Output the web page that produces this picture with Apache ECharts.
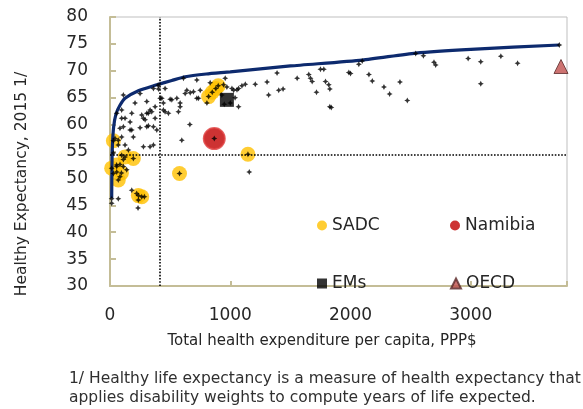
<!DOCTYPE html>
<html>
<head>
<meta charset="utf-8">
<script src="https://cdn.jsdelivr.net/npm/echarts@6/dist/echarts.min.js"></script>
<style>
  html, body { margin: 0; padding: 0; background: #fff; }
  #chart { width: 583px; height: 409px; }
</style>
</head>
<body>
<div id="chart"></div>
<script>
// Efficiency frontier: health spending (PPP$ per capita) vs healthy life expectancy
const frontier = [
  [14, 46.3], [16, 52.0], [20, 56.0], [30, 59.5], [50, 62.0], [83, 63.6],
  [125, 64.9], [236, 66.3], [375, 67.3], [514, 68.2], [625, 68.9], [800, 69.4],
  [1000, 69.8], [1500, 70.9], [2097, 72.0], [2542, 73.3], [3000, 74.0], [3736, 74.8]
];

// All countries (small black markers)
const countries = [
  [14, 46.2], [14, 45.4], [69, 46.2], [28, 50.9], [56, 51.2], [56, 52.2], [83, 50.3], [83, 52.6],
  [111, 52.2], [139, 51.6], [28, 54.7], [97, 54.3], [111, 53.5], [42, 57.4], [69, 56.2], [69, 57.1],
  [97, 57.7], [125, 56.2], [153, 55.3], [278, 55.9], [333, 55.9], [361, 56.2], [194, 57.7], [181, 59.0],
  [83, 59.3], [111, 59.6], [167, 60.5], [125, 61.2], [97, 61.2], [56, 62.1], [97, 62.7], [181, 62.1],
  [264, 61.8], [278, 61.2], [306, 62.1], [319, 62.1], [333, 62.7], [347, 62.4], [375, 63.3], [306, 59.6],
  [292, 60.9], [319, 59.8], [361, 59.6], [389, 59.0], [375, 61.2], [167, 59.0], [250, 59.4],
  [111, 65.5], [208, 64.0], [250, 65.8], [306, 64.3], [361, 66.7], [403, 66.6], [458, 66.7], [417, 64.9],
  [444, 64.0], [500, 64.7], [556, 64.9], [458, 62.4], [486, 62.1], [569, 62.4], [444, 62.7], [583, 63.3],
  [583, 64.0], [514, 64.6], [625, 65.8], [639, 66.4], [694, 66.1], [667, 65.9], [611, 68.6], [722, 68.3],
  [722, 64.9], [736, 64.9], [750, 66.4], [806, 64.0], [597, 57.1], [664, 60.0], [400, 67.3], [431, 64.9],
  [181, 47.8], [222, 47.2], [236, 46.0], [233, 44.5], [286, 46.6], [264, 46.6], [1158, 51.2],
  [28, 57.0], [125, 54.0], [194, 53.7], [14, 51.9], [55, 52.5], [69, 49.7], [95, 51.0], [236, 46.8],
  [578, 50.9], [1147, 54.5], [820, 65.2], [850, 66.0], [880, 66.7], [900, 67.2], [867, 57.4],
  [833, 67.8], [944, 67.4], [958, 68.6], [972, 67.0], [1014, 66.7], [1028, 66.4], [1069, 66.7],
  [1097, 67.2], [1125, 67.5], [1208, 67.5], [1056, 66.5], [1069, 63.3], [930, 65.5], [950, 63.8],
  [1000, 64.0], [1040, 65.0], [1306, 67.9], [1319, 65.5], [1389, 69.6], [1403, 66.4], [1439, 66.6],
  [1556, 68.6], [1653, 69.3], [1667, 68.6], [1681, 68.0], [1750, 70.3], [1778, 70.3], [1792, 68.0],
  [1819, 67.4], [1828, 66.6], [1717, 66.0], [1828, 63.3], [1840, 63.2], [1986, 69.7], [2000, 69.5],
  [2069, 71.2], [2097, 71.8], [2153, 69.3], [2181, 68.1], [2278, 67.0], [2325, 65.7], [2411, 67.9],
  [2472, 64.5], [2542, 73.2], [2606, 72.8], [2694, 71.6], [2708, 71.1], [2978, 72.3], [3083, 71.7],
  [3083, 67.6], [3250, 72.7], [3389, 71.4], [3736, 74.8]
];

const sadc = [
  [28, 57.0], [125, 54.0], [194, 53.7], [14, 51.9], [55, 52.5], [69, 49.7], [95, 51.0],
  [236, 46.8], [264, 46.6], [578, 50.9], [1147, 54.5], [820, 65.2], [850, 66.0], [880, 66.7], [900, 67.2]
];
const namibia = [[867, 57.4]];
const ems = [[972, 64.6]];
const oecd = [[3750, 70.8]];

// Reference lines: spending and life-expectancy thresholds
const refSpending = 417;
const refExpectancy = 54.4;

const xTicks = [0, 1000, 2000, 3000];
const yTicks = [30, 35, 40, 45, 50, 55, 60, 65, 70, 75, 80];

const xTitle = 'Total health expenditure per capita, PPP$';
const yTitle = 'Healthy Expectancy, 2015 1/';
const footnote = '1/ Healthy life expectancy is a measure of health expectancy that\napplies disability weights to compute years of life expected.';

const textColor = '#262626';
const font = 'DejaVu Sans';
const starPath = 'path://M3,0 L4,2 L6,3 L4,4 L3,6 L2,4 L0,3 L2,2 Z';

const chart = echarts.init(document.getElementById('chart'));

// One legend per entry so each can sit at its own spot inside the plot
function legendAt(name, left, top, iconStyle) {
  return {
    data: [{ name: name, itemStyle: iconStyle || {} }],
    left: left, top: top, itemWidth: 10, itemHeight: 10, itemGap: 0,
    textStyle: { color: textColor, fontSize: 17, fontFamily: font },
    selectedMode: false
  };
}

chart.setOption({
  animation: false,
  backgroundColor: '#fff',
  grid: { left: 110, right: 16, top: 17, bottom: 123, show: true, borderColor: '#bfbfbf', borderWidth: 1 },
  legend: [
    legendAt('SADC', 312, 212),
    legendAt('Namibia', 445, 212, { borderWidth: 0 }),
    legendAt('EMs', 312, 270),
    legendAt('OECD', 445, 270)
  ],
  xAxis: {
    type: 'value', min: 0, max: 3800, interval: 1000,
    axisLine: { show: true, lineStyle: { color: '#c4bd97', width: 2 } },
    axisTick: { show: true, inside: true, length: 5, lineStyle: { color: '#c4bd97', width: 2 } },
    splitLine: { show: false },
    axisLabel: {
      color: textColor, fontSize: 17, fontFamily: font, margin: 21,
      formatter: v => (xTicks.indexOf(v) >= 0 ? String(v) : '')
    }
  },
  yAxis: {
    type: 'value', min: 30, max: 80, interval: 5,
    axisLine: { show: true, lineStyle: { color: '#c4bd97', width: 2 } },
    axisTick: { show: true, inside: true, length: 6, lineStyle: { color: '#c4bd97', width: 2 } },
    splitLine: { show: false },
    axisLabel: {
      color: textColor, fontSize: 17, fontFamily: font, margin: 22,
      formatter: v => (yTicks.indexOf(v) >= 0 ? String(v) : '')
    }
  },
  series: [
    {
      name: 'SADC', type: 'scatter', data: sadc, symbol: 'circle', symbolSize: 15, z: 2,
      itemStyle: { color: '#ffc000' }
    },
    {
      name: 'Namibia', type: 'scatter', data: namibia, symbol: 'circle', symbolSize: 21, z: 2,
      itemStyle: { color: '#c00000', borderColor: '#dd3a3a', borderWidth: 2 }
    },
    {
      name: 'frontier', type: 'line', data: frontier, symbol: 'none', z: 3, smooth: 0.2,
      lineStyle: { color: '#0d2a6e', width: 3.2 },
      markLine: {
        silent: true, symbol: 'none', label: { show: false },
        lineStyle: { color: '#000', type: 'dotted', width: 1.6 },
        data: [{ xAxis: refSpending }, { yAxis: refExpectancy }]
      }
    },
    {
      name: 'countries', type: 'scatter', data: countries, symbol: starPath, symbolSize: 6, z: 4,
      itemStyle: { color: '#000' }
    },
    {
      name: 'EMs', type: 'scatter', data: ems, symbol: 'rect', symbolSize: 14, z: 5,
      itemStyle: { color: '#000' }
    },
    {
      name: 'OECD', type: 'scatter', data: oecd, symbol: 'triangle', symbolSize: 14, z: 5,
      itemStyle: { color: '#c0504d', borderColor: '#5a2a2a', borderWidth: 1 }
    }
  ],
  graphic: [
    {
      type: 'text', x: 322, y: 341,
      style: { text: xTitle, fill: textColor, font: '15px "DejaVu Sans"', align: 'center', verticalAlign: 'middle' }
    },
    {
      type: 'text', x: 22, y: 184, rotation: Math.PI / 2,
      style: { text: yTitle, fill: textColor, font: '15.5px "DejaVu Sans"', align: 'center', verticalAlign: 'middle' }
    },
    {
      type: 'text', left: 69, top: 369,
      style: { text: footnote, fill: '#303030', font: '15.5px "DejaVu Sans"', lineHeight: 19 }
    }
  ]
});
</script>
</body>
</html>
